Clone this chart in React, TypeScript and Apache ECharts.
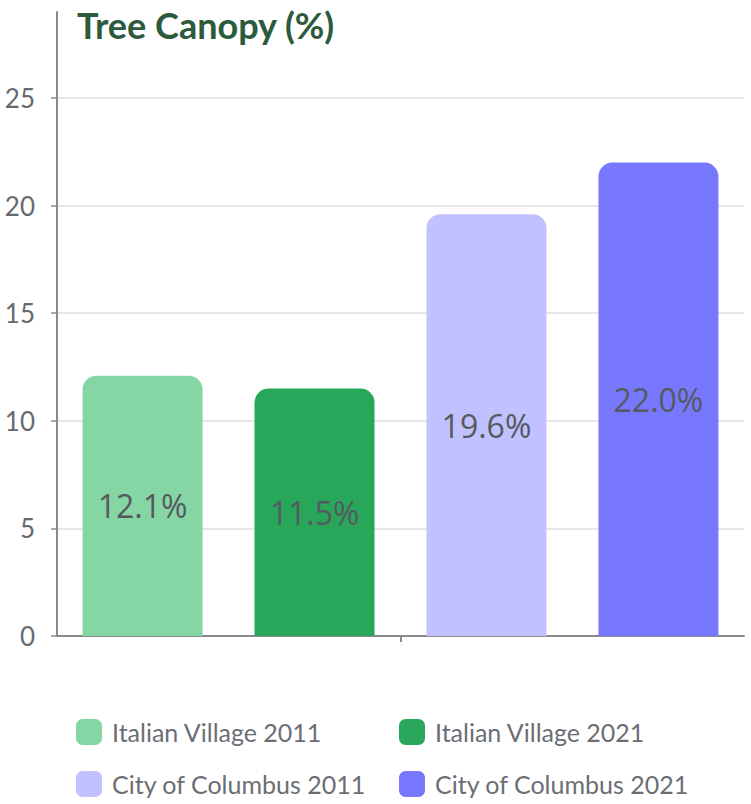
import React, { useEffect, useRef } from "react";
import * as echarts from "echarts";

const categories = ["Tree Canopy"];
const seriesNames = [
  "Italian Village 2011",
  "Italian Village 2021",
  "City of Columbus 2011",
  "City of Columbus 2021",
];
const seriesValues = [12.1, 11.5, 19.6, 22.0];
const seriesColors = ["#86d6a5", "#28a75b", "#c1c1ff", "#7878ff"];
const yTicks = [0, 5, 10, 15, 20, 25];

export default function App() {
  const ref = useRef<HTMLDivElement>(null);
  useEffect(() => {
    if (!ref.current) return;
    const chart = echarts.init(ref.current, null, { renderer: "svg" });
    const font = "Lato, 'Noto Sans', sans-serif";
    const legendBase = {
      orient: "vertical",
      top: 719,
      height: 84,
      padding: 0,
      itemWidth: 26,
      itemHeight: 26,
      itemGap: 26,
      icon: "roundRect",
      selectedMode: false,
      textStyle: { fontFamily: font, fontSize: 25, color: "#6b6e75", padding: [0, 0, 0, 5] },
    };
    chart.setOption({
      animation: false,
      textStyle: { fontFamily: font },
      title: {
        text: "Tree Canopy (%)",
        left: 72,
        top: 2,
        textStyle: { fontFamily: font, fontWeight: "bold", fontSize: 36, color: "#2b5a3c" },
      },
      grid: { left: 57, right: 7, top: 12, bottom: 168, containLabel: false },
      legend: [
        { ...legendBase, left: 76, data: [seriesNames[0], seriesNames[2]] },
        { ...legendBase, left: 399, data: [seriesNames[1], seriesNames[3]] },
      ],
      xAxis: {
        type: "category",
        data: categories,
        axisLine: { lineStyle: { color: "#8a8a8a", width: 2 } },
        axisTick: { show: true, alignWithLabel: true, length: 6, lineStyle: { color: "#8a8a8a", width: 2 } },
        axisLabel: { show: false },
        splitLine: { show: false },
      },
      yAxis: {
        type: "value",
        min: 0,
        max: 29,
        interval: 5,
        axisLine: { show: true, lineStyle: { color: "#8a8a8a", width: 2 } },
        axisTick: { show: true, length: 6, customValues: yTicks, lineStyle: { color: "#8a8a8a", width: 1.5 } },
        axisLabel: { customValues: yTicks, margin: 22, fontFamily: font, fontSize: 26, color: "#666a70" },
        splitLine: { show: true, lineStyle: { color: "#dedede", width: 1.5 } },
      },
      series: seriesNames.map((name, i) => ({
        name,
        type: "bar",
        data: [seriesValues[i]],
        barWidth: 120,
        barGap: "43.3%",
        itemStyle: { color: seriesColors[i], borderRadius: [14, 14, 0, 0] },
        label: {
          show: true,
          position: "inside",
          formatter: (p: any) => Number(p.value).toFixed(1) + "%",
          fontFamily: "'Open Sans', 'Noto Sans', sans-serif",
          fontSize: 32,
          color: "#555a60",
        },
      })),
    });
    return () => chart.dispose();
  }, []);
  return <div ref={ref} style={{ width: 751, height: 804, position: "absolute", left: 0, top: 0 }} />;
}
